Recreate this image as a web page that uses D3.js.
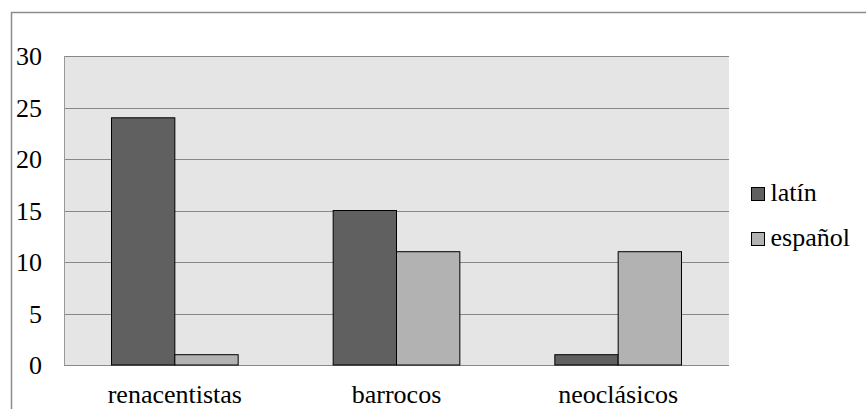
<!DOCTYPE html>
<html><head><meta charset="utf-8">
<script src="https://cdn.jsdelivr.net/npm/d3@7"></script>
<style>body{margin:0;background:#fff}</style>
</head><body>
<script>
const categories = ["renacentistas", "barrocos", "neoclásicos"];
const seriesNames = ["latín", "español"];
const latin = [24, 15, 1];
const espanol = [1, 11, 11];
const yTicks = [0, 5, 10, 15, 20, 25, 30];
const colors = ["#606060", "#b2b2b2"];

const W = 866, H = 409;
const svg = d3.select("body").append("svg").attr("width", W).attr("height", H)
  .style("display", "block");

function styleText(sel) {
  sel.attr("font-family", "Liberation Serif").attr("font-size", 26)
     .style("font-family", '"Liberation Serif"').style("font-size", "26px").attr("fill", "#000");
}

// outer frame
svg.append("rect").attr("x", 11.5).attr("y", 12.5).attr("width", W).attr("height", H)
  .attr("fill", "none").attr("stroke", "#8c8c8c").attr("stroke-width", 1.5);

const L = 64, T = 56, R = 729, B = 365;
svg.append("rect").attr("x", L).attr("y", T).attr("width", R - L).attr("height", B - T).attr("fill", "#e5e5e5");

const y = d3.scaleLinear().domain([0, 30]).range([B, T]);
const x0 = d3.scaleBand().domain(categories).range([L, R]);
const x1 = d3.scaleBand().domain(seriesNames).range([0, x0.bandwidth()]).paddingOuter(0.75);

// gridlines
svg.append("g").selectAll("line").data(yTicks).join("line")
  .attr("x1", L).attr("x2", R).attr("y1", d => Math.round(y(d)) + 0.5).attr("y2", d => Math.round(y(d)) + 0.5)
  .attr("stroke", "#888").attr("stroke-width", 1);
svg.append("line").attr("x1", L + 0.5).attr("x2", L + 0.5).attr("y1", T).attr("y2", B).attr("stroke", "#999");

// y tick labels
svg.append("g").selectAll("text").data(yTicks).join("text")
  .attr("x", 42).attr("y", d => y(d)).attr("dy", "0.35em").attr("text-anchor", "end")
  .text(d => d).call(styleText);

// bars
const data = categories.map((c, i) => ({c, vals: [latin[i], espanol[i]]}));
svg.append("g").selectAll("g").data(data).join("g")
  .attr("transform", d => `translate(${x0(d.c)},0)`)
  .selectAll("rect").data(d => d.vals.map((v, j) => ({k: seriesNames[j], v, j}))).join("rect")
  .attr("x", d => x1(d.k)).attr("y", d => y(d.v)).attr("width", x1.bandwidth()).attr("height", d => y(0) - y(d.v))
  .attr("fill", d => colors[d.j]).attr("stroke", "#000").attr("stroke-width", 1);

// category labels
svg.append("g").selectAll("text").data(categories).join("text")
  .attr("x", d => x0(d) + x0.bandwidth() / 2).attr("y", 403).attr("text-anchor", "middle")
  .text(d => d).call(styleText);

// legend
const leg = svg.append("g").selectAll("g").data(seriesNames).join("g")
  .attr("transform", (d, i) => `translate(751.5,${187.5 + i * 45})`);
leg.append("rect").attr("width", 13).attr("height", 13)
  .attr("fill", (d, i) => colors[i]).attr("stroke", "#000").attr("stroke-width", 1);
leg.append("text").attr("x", 19).attr("y", 13.5).text(d => d).call(styleText);
</script>
</body></html>
